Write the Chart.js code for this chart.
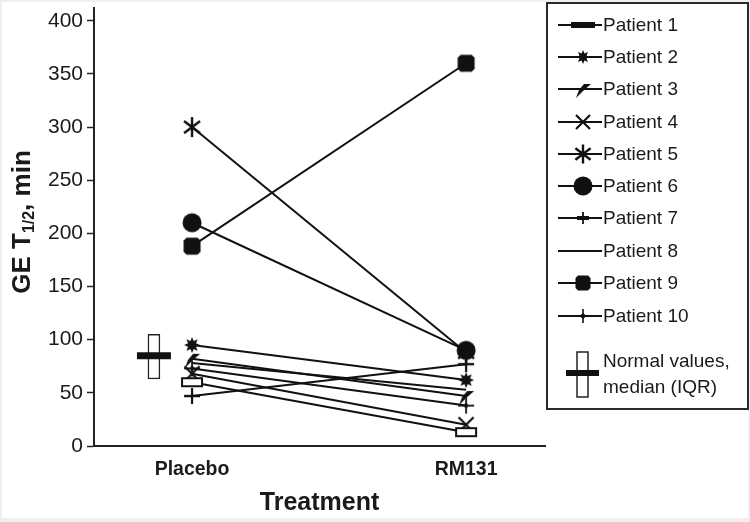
<!DOCTYPE html>
<html>
<head>
<meta charset="utf-8">
<script src="https://cdn.jsdelivr.net/npm/chart.js@4"></script>
<style>
  html, body { margin: 0; padding: 0; background: #fff; }
  #wrap { width: 750px; height: 522px; }
</style>
</head>
<body>
<div id="wrap"><canvas id="c" width="750" height="522"></canvas></div>
<script>
// ---- data ----
const categories = ['Placebo', 'RM131'];
const patients = ['Patient 1', 'Patient 2', 'Patient 3', 'Patient 4', 'Patient 5',
                  'Patient 6', 'Patient 7', 'Patient 8', 'Patient 9', 'Patient 10'];
const placeboValues = [60, 95, 82, 68, 300, 210, 47, 78, 188, 73];
const rm131Values   = [13, 62, 47, 20, 88, 90, 77, 53, 360, 38];
const normalIQR = [63, 105];
const normalMedian = 85;
const normalLabel = ['Normal values,', 'median (IQR)'];
const yTickValues = [0, 50, 100, 150, 200, 250, 300, 350, 400];

// ---- marker images ----
const INK = '#111';
function mk(w, h, draw) {
  const c = document.createElement('canvas');
  c.width = w; c.height = h;
  const g = c.getContext('2d');
  g.translate(w / 2, h / 2);
  g.fillStyle = INK; g.strokeStyle = INK; g.lineCap = 'butt';
  draw(g);
  return c;
}
function starburst(g, ro, ri, n) {
  g.beginPath();
  for (let i = 0; i < 2 * n; i++) {
    const r = i % 2 === 0 ? ro : ri;
    const a = -Math.PI / 2 + i * Math.PI / n;
    const x = r * Math.cos(a), y = r * Math.sin(a);
    if (i === 0) g.moveTo(x, y); else g.lineTo(x, y);
  }
  g.closePath(); g.fill();
}
function slash(g) {
  g.beginPath();
  g.moveTo(-7, 9); g.lineTo(-4, 1); g.lineTo(1, -5); g.lineTo(8, -5); g.lineTo(0, 2); g.closePath();
  g.fill();
}
function xmark(g, s, lw) {
  g.lineWidth = lw; g.beginPath();
  g.moveTo(-s, -s); g.lineTo(s, s); g.moveTo(s, -s); g.lineTo(-s, s); g.stroke();
}
function asterisk(g, s, lw) {
  g.lineWidth = lw; g.beginPath();
  g.moveTo(0, -s); g.lineTo(0, s);
  const d = s * 0.8;
  g.moveTo(-d, -d * 0.75); g.lineTo(d, d * 0.75);
  g.moveTo(d, -d * 0.75); g.lineTo(-d, d * 0.75);
  g.stroke();
}
function plus(g, s, lwv, lwh) {
  g.lineWidth = lwv; g.beginPath(); g.moveTo(0, -s); g.lineTo(0, s); g.stroke();
  g.lineWidth = lwh; g.beginPath(); g.moveTo(-s, 0); g.lineTo(s, 0); g.stroke();
}
function chamferSquare(g, h, c) {
  g.beginPath();
  g.moveTo(-h + c, -h); g.lineTo(h - c, -h); g.lineTo(h, -h + c); g.lineTo(h, h - c);
  g.lineTo(h - c, h); g.lineTo(-h + c, h); g.lineTo(-h, h - c); g.lineTo(-h, -h + c);
  g.closePath(); g.fill();
}

const plotMarkers = [
  mk(24, 12, g => { g.fillStyle = '#fff'; g.fillRect(-10, -4, 20, 8); g.lineWidth = 2; g.strokeRect(-10, -4, 20, 8); }),
  mk(18, 18, g => starburst(g, 8, 4.3, 8)),
  mk(20, 20, g => slash(g)),
  mk(20, 20, g => xmark(g, 7.5, 2.2)),
  mk(24, 24, g => asterisk(g, 10, 2.4)),
  mk(22, 22, g => { g.beginPath(); g.arc(0, 0, 9.5, 0, Math.PI * 2); g.fill(); }),
  mk(20, 20, g => plus(g, 8, 2.2, 2.4)),
  null,
  mk(20, 20, g => chamferSquare(g, 8.5, 3)),
  mk(20, 20, g => { plus(g, 8, 1.8, 1.8); g.beginPath(); g.moveTo(0, -3); g.lineTo(3, 0); g.lineTo(0, 3); g.lineTo(-3, 0); g.closePath(); g.fill(); })
];
const legendMarkers = [
  mk(28, 12, g => { g.fillRect(-12, -3, 24, 6); }),
  mk(18, 18, g => starburst(g, 7, 3.8, 8)),
  mk(20, 20, g => slash(g)),
  mk(20, 20, g => xmark(g, 7, 2.2)),
  mk(24, 24, g => asterisk(g, 9.5, 2.4)),
  mk(22, 22, g => { g.beginPath(); g.arc(0, 0, 9.5, 0, Math.PI * 2); g.fill(); }),
  mk(20, 20, g => plus(g, 6, 1.8, 4)),
  null,
  mk(20, 20, g => chamferSquare(g, 7.5, 2.5)),
  mk(20, 20, g => { plus(g, 7, 1.6, 2); g.beginPath(); g.moveTo(0, -3); g.lineTo(3.5, 0); g.lineTo(0, 3); g.lineTo(-3.5, 0); g.closePath(); g.fill(); })
];

// ---- datasets ----
const PLACEBO_X = 1, RM131_X = 2, NORMAL_X = 0.861;
const datasets = patients.map((name, i) => ({
  type: 'line',
  label: name,
  data: [{ x: PLACEBO_X, y: placeboValues[i] }, { x: RM131_X, y: rm131Values[i] }],
  borderColor: INK,
  borderWidth: 2,
  pointStyle: plotMarkers[i] || 'circle',
  pointRadius: plotMarkers[i] ? 6 : 0,
  pointHoverRadius: plotMarkers[i] ? 6 : 0,
  fill: false,
  tension: 0,
  clip: false,
  order: i
}));
datasets.push({
  type: 'line',
  label: 'Normal median',
  data: [{ x: NORMAL_X - 0.062, y: normalMedian }, { x: NORMAL_X + 0.062, y: normalMedian }],
  borderColor: INK,
  borderWidth: 7,
  borderCapStyle: 'butt',
  pointRadius: 0,
  order: 20
});
datasets.push({
  type: 'bar',
  label: 'Normal IQR',
  data: [{ x: NORMAL_X, y: normalIQR }],
  backgroundColor: '#fff',
  borderColor: '#222',
  borderWidth: 1.5,
  borderSkipped: false,
  barThickness: 12,
  grouped: false,
  order: 30
});

// ---- plugins ----
const FONT = '"Liberation Sans", Arial, sans-serif';
const frame = {
  id: 'frame',
  beforeDraw(chart) {
    const g = chart.ctx;
    g.save();
    g.fillStyle = '#efefef'; g.fillRect(0, 0, chart.width, chart.height);
    g.fillStyle = '#fff'; g.fillRect(2, 2, chart.width - 4, chart.height - 6);
    g.restore();
  }
};
const yTitle = {
  id: 'yTitle',
  afterDraw(chart) {
    const g = chart.ctx;
    const big = 'bold 26px ' + FONT;
    const small = 'bold 16px ' + FONT;
    g.save();
    g.font = big; const w1 = g.measureText('GE T').width; const w3 = g.measureText(', min').width;
    g.font = small; const w2 = g.measureText('1/2').width;
    const total = w1 + w2 + w3;
    g.translate(23, 222);
    g.rotate(-Math.PI / 2);
    g.fillStyle = '#1a1a1a'; g.textBaseline = 'middle'; g.textAlign = 'left';
    let x = -total / 2;
    g.font = big; g.fillText('GE T', x, 0); x += w1;
    g.font = small; g.fillText('1/2', x, 7); x += w2;
    g.font = big; g.fillText(', min', x, 0);
    g.restore();
  }
};
const legendBox = {
  id: 'legendBox',
  afterDraw(chart) {
    const g = chart.ctx;
    const rows = [25, 57, 89, 122, 154, 186, 218, 251, 283, 316];
    g.save();
    g.strokeStyle = '#2a2a2a'; g.lineWidth = 2;
    g.strokeRect(547, 3, 201, 406);
    g.font = '19px ' + FONT;
    g.fillStyle = '#1a1a1a'; g.textBaseline = 'middle'; g.textAlign = 'left';
    patients.forEach((name, i) => {
      const y = rows[i];
      g.strokeStyle = INK; g.lineWidth = 2;
      g.beginPath(); g.moveTo(558, y); g.lineTo(602, y); g.stroke();
      const m = legendMarkers[i];
      if (m) g.drawImage(m, 583 - m.width / 2, y - m.height / 2);
      g.fillText(name, 603, y + 1);
    });
    // normal values entry
    g.fillStyle = '#fff'; g.fillRect(577, 352, 11, 45);
    g.strokeStyle = '#222'; g.lineWidth = 1.5; g.strokeRect(577, 352, 11, 45);
    g.fillStyle = INK; g.fillRect(566, 370, 33, 6);
    g.fillStyle = '#1a1a1a';
    g.fillText(normalLabel[0], 603, 362);
    g.fillText(normalLabel[1], 603, 388);
    g.restore();
  }
};

new Chart(document.getElementById('c'), {
  type: 'line',
  data: { datasets },
  options: {
    responsive: false,
    animation: false,
    events: [],
    layout: { padding: { left: 0, right: 205, top: 7, bottom: 0 } },
    plugins: { legend: { display: false }, tooltip: { enabled: false }, title: { display: false } },
    scales: {
      x: {
        type: 'linear',
        min: 0.6423,
        max: 2.288,
        offset: false,
        afterBuildTicks: s => { s.ticks = [{ value: PLACEBO_X }, { value: RM131_X }]; },
        afterFit: s => { s.height = 76; s.paddingLeft = 0; s.paddingRight = 0; },
        ticks: {
          callback: v => categories[Math.round(v) - 1],
          font: { family: FONT, size: 19.5, weight: 'bold' },
          color: '#1a1a1a',
          padding: 12,
          maxRotation: 0,
          autoSkip: false
        },
        grid: { display: true, drawOnChartArea: false, drawTicks: false },
        border: { display: true, color: '#222', width: 2 },
        title: {
          display: true,
          text: 'Treatment',
          font: { family: FONT, size: 25, weight: 'bold' },
          color: '#1a1a1a',
          padding: { top: 11 }
        }
      },
      y: {
        type: 'linear',
        min: 0,
        max: 412,
        afterBuildTicks: s => { s.ticks = yTickValues.map(v => ({ value: v })); },
        afterFit: s => { s.width = 94; s.paddingTop = 0; s.paddingBottom = 0; },
        ticks: {
          font: { family: FONT, size: 21 },
          color: '#1a1a1a',
          padding: 4
        },
        grid: { display: true, drawOnChartArea: false, drawTicks: true, tickLength: 7, color: '#222', tickWidth: 1.5 },
        border: { display: true, color: '#222', width: 2 }
      }
    }
  },
  plugins: [frame, yTitle, legendBox]
});
</script>
</body>
</html>
